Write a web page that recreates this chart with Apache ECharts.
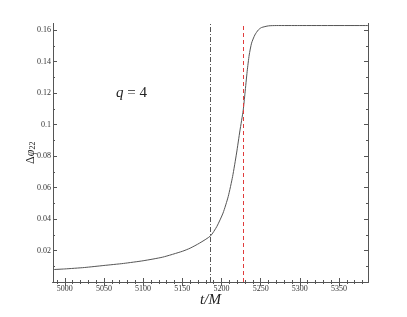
<!DOCTYPE html>
<html><head><meta charset="utf-8">
<script src="https://cdn.jsdelivr.net/npm/echarts@6/dist/echarts.min.js"></script>
<style>html,body{margin:0;padding:0;background:#fff}#c{width:407px;height:317px}</style>
</head><body><div id="c"></div>
<script>
const timeValues = [4985, 5000, 5025, 5050, 5075, 5100, 5125, 5150, 5160, 5172, 5186, 5194, 5202, 5208.6, 5214.2, 5219.3, 5223.5, 5227.7, 5230, 5232.8, 5235.4, 5238.4, 5242.6, 5247, 5251, 5260, 5270, 5300, 5387];
const phaseValues = [0.0079, 0.0083, 0.0092, 0.0105, 0.0118, 0.0135, 0.0158, 0.0195, 0.0215, 0.0247, 0.0293, 0.0352, 0.0438, 0.0543, 0.067, 0.082, 0.096, 0.109, 0.120, 0.1339, 0.1443, 0.1518, 0.157, 0.1602, 0.1617, 0.1628, 0.163, 0.163, 0.163];
const xMajorTicks = [5000, 5050, 5100, 5150, 5200, 5250, 5300, 5350];
const xMinorTicks = [4990, 5010, 5020, 5030, 5040, 5060, 5070, 5080, 5090, 5110, 5120, 5130, 5140, 5160, 5170, 5180, 5190, 5210, 5220, 5230, 5240, 5260, 5270, 5280, 5290, 5310, 5320, 5330, 5340, 5360, 5370, 5380];
const yMajorTicks = [0.02, 0.04, 0.06, 0.08, 0.1, 0.12, 0.14, 0.16];
const yMinorTicks = [0.01, 0.03, 0.05, 0.07, 0.09, 0.11, 0.13, 0.15];
const markerTimes = [5185.6, 5227.7];
const annotationSymbol = 'q';
const annotationValue = ' = 4';

const X_MIN = 4985, X_MAX = 5387, Y_MIN = 0, Y_MAX = 0.1643;
const axisColor = '#555';
const fontFam = '"Liberation Serif", "DejaVu Serif", serif';

function xAxisDef(pos, ticks, len, showLabels, extra) {
  return Object.assign({
    type: 'value', position: pos, min: X_MIN, max: X_MAX,
    axisLine: { show: true, lineStyle: { color: axisColor, width: 1 } },
    axisTick: { show: true, inside: true, length: len, customValues: ticks, lineStyle: { color: axisColor } },
    axisLabel: showLabels ? { show: true, customValues: xMajorTicks, fontFamily: fontFam, fontSize: 8, color: '#333', margin: 3, formatter: v => String(v) } : { show: false },
    splitLine: { show: false }
  }, extra || {});
}
function yAxisDef(pos, ticks, len, showLabels, extra) {
  return Object.assign({
    type: 'value', position: pos, min: Y_MIN, max: Y_MAX,
    axisLine: { show: true, lineStyle: { color: axisColor, width: 1 } },
    axisTick: { show: true, inside: true, length: len, customValues: ticks, lineStyle: { color: axisColor } },
    axisLabel: showLabels ? { show: true, customValues: yMajorTicks, fontFamily: fontFam, fontSize: 8, color: '#333', margin: 2, formatter: v => String(+v.toFixed(2)) } : { show: false },
    splitLine: { show: false }
  }, extra || {});
}

const chart = echarts.init(document.getElementById('c'), null, { renderer: 'canvas' });
chart.setOption({
  animation: false,
  backgroundColor: '#fff',
  grid: { left: 53, right: 39, top: 23.5, bottom: 35, containLabel: false, outerBoundsMode: 'none' },
  xAxis: [
    xAxisDef('bottom', xMajorTicks, 4, true, {
      name: 't/M', nameLocation: 'middle', nameGap: 11, nameMoveOverlap: false,
      nameTextStyle: { fontFamily: fontFam, fontStyle: 'italic', fontSize: 15, color: '#222' }
    }),
    xAxisDef('bottom', xMinorTicks, 2, false),
    xAxisDef('top', xMajorTicks, 4, false),
    xAxisDef('top', xMinorTicks, 2, false)
  ],
  yAxis: [
    yAxisDef('left', yMajorTicks, 4, true, {
      name: '{d|Δ}{p|φ}{s|22}', nameLocation: 'middle', nameGap: 16, nameRotate: 90, nameMoveOverlap: false,
      nameTextStyle: { rich: {
        d: { fontFamily: fontFam, fontSize: 12, color: '#222' },
        p: { fontFamily: fontFam, fontStyle: 'italic', fontSize: 12, color: '#222' },
        s: { fontFamily: fontFam, fontSize: 8, color: '#222', verticalAlign: 'bottom', padding: [5, 0, 0, 0] }
      } }
    }),
    yAxisDef('left', yMinorTicks, 2, false),
    yAxisDef('right', yMajorTicks, 4, false),
    yAxisDef('right', yMinorTicks, 2, false)
  ],
  series: [{
    type: 'line',
    xAxisIndex: 0, yAxisIndex: 0,
    data: timeValues.map((t, i) => [t, phaseValues[i]]),
    showSymbol: false, smooth: 0.2,
    lineStyle: { color: '#555', width: 1 },
    markLine: {
      symbol: 'none', silent: true, label: { show: false },
      data: [
        { xAxis: markerTimes[0], lineStyle: { color: '#555', width: 1, type: [5, 2, 1, 2] } },
        { xAxis: markerTimes[1], lineStyle: { color: '#e03c3c', width: 1, type: [4, 3] } }
      ]
    }
  }],
  graphic: [{
    type: 'text', left: 116, top: 86,
    style: {
      text: '{q|' + annotationSymbol + '}{v|' + annotationValue + '}',
      rich: {
        q: { fontFamily: fontFam, fontStyle: 'italic', fontSize: 15, fill: '#222' },
        v: { fontFamily: fontFam, fontSize: 15, fill: '#222' }
      }
    }
  }]
});
</script></body></html>
